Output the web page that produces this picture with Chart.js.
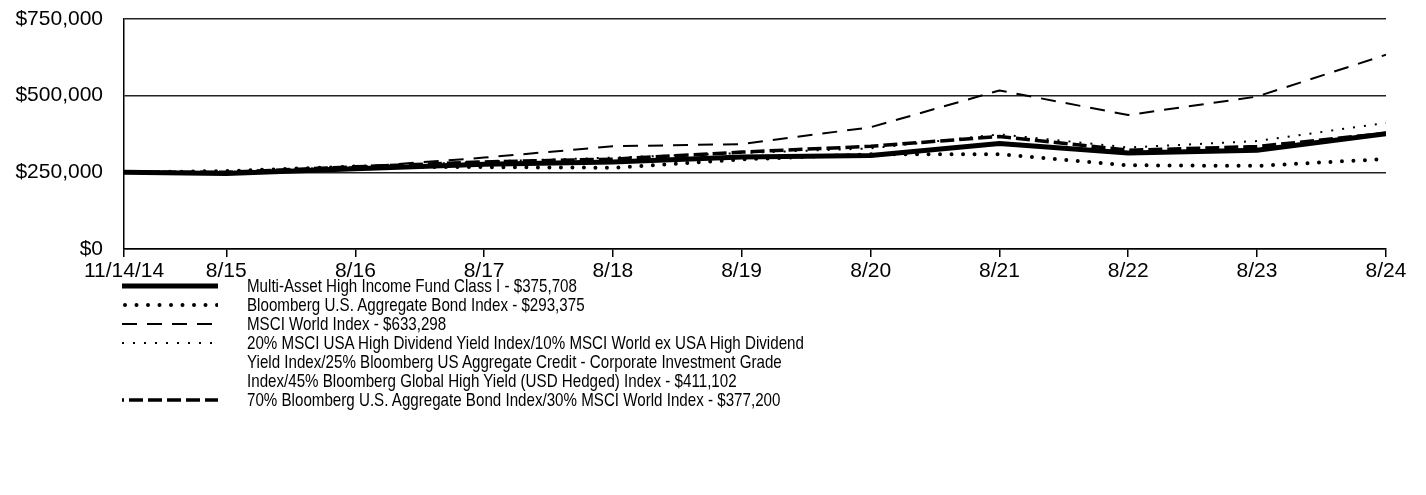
<!DOCTYPE html>
<html>
<head>
<meta charset="utf-8">
<script src="https://cdn.jsdelivr.net/npm/chart.js@4"></script>
<style>
  body { margin: 0; background: #fff; }
  #wrap { position: relative; width: 1426px; height: 495px; }
  #legend { position: absolute; left: 0; top: 276px; font-family: "Liberation Sans", Arial, sans-serif; font-size: 19px; color: #000; }
  .row { position: relative; height: 19px; line-height: 19px; }
  .row canvas { position: absolute; left: 122px; top: 0; }
  .row span { position: absolute; left: 247px; top: 0; white-space: nowrap; transform: scaleX(0.797); transform-origin: 0 0; }
</style>
</head>
<body>
<div id="wrap">
  <canvas id="growthChart" width="1426" height="292"></canvas>
  <div id="legend"></div>
</div>
<script>
// dates of each point and the axis labels
const dates = ["2014-11-14", "2015-08-31", "2016-08-31", "2017-08-31", "2018-08-31", "2019-08-31",
  "2020-08-31", "2021-08-31", "2022-08-31", "2023-08-31", "2024-08-31"];
const tickLabels = ["11/14/14", "8/15", "8/16", "8/17", "8/18", "8/19", "8/20", "8/21", "8/22", "8/23", "8/24"];

// values
const fund = [250000, 246000, 262000, 276000, 284000, 300000, 305000, 344000, 313000, 322000, 375708];
const aggBond = [250000, 254000, 269000, 267000, 265000, 292000, 309000, 309000, 273000, 271000, 293375];
const msciWorld = [250000, 250000, 267000, 298000, 335000, 342000, 397000, 517000, 437000, 497000, 633298];
const blend45 = [250000, 251000, 268000, 285000, 298000, 313000, 328000, 374000, 331000, 352000, 411102];
const blend70 = [250000, 250000, 268000, 284000, 293000, 316000, 335000, 367000, 322000, 334000, 377200];

const legendLabels = [
  "Multi-Asset High Income Fund Class I - $375,708",
  "Bloomberg U.S. Aggregate Bond Index - $293,375",
  "MSCI World Index - $633,298",
  "20% MSCI USA High Dividend Yield Index/10% MSCI World ex USA High Dividend<br>Yield Index/25% Bloomberg US Aggregate Credit - Corporate Investment Grade<br>Index/45% Bloomberg Global High Yield (USD Hedged) Index - $411,102",
  "70% Bloomberg U.S. Aggregate Bond Index/30% MSCI World Index - $377,200",
];

// line styles, same order as the legend
const styles = [
  { width: 5, dash: [], cap: "butt" },
  { width: 4, dash: [0, 11.5], cap: "round" },
  { width: 2, dash: [15, 10], cap: "butt" },
  { width: 2, dash: [2, 9], cap: "butt" },
  { width: 3.5, dash: [14, 5], cap: "butt", offset: 12 },
];

const start = new Date(dates[0]).getTime();
const xs = dates.map((d) => (new Date(d).getTime() - start) / (365.25 * 864e5));
const toPoints = (arr) => arr.map((v, i) => ({ x: xs[i], y: v }));

const series = [fund, aggBond, msciWorld, blend45, blend70];
const tickFont = { family: "'Liberation Sans', Arial, sans-serif", size: 21 };

const ctx = document.getElementById("growthChart").getContext("2d");
new Chart(ctx, {
  type: "line",
  data: {
    datasets: series.map((s, i) => ({
      label: legendLabels[i],
      data: toPoints(s),
      borderColor: "#000",
      borderWidth: styles[i].width,
      borderDash: styles[i].dash,
      borderCapStyle: styles[i].cap,
      borderJoinStyle: "round",
      pointRadius: 0,
      tension: 0,
    })),
  },
  options: {
    responsive: false,
    animation: false,
    layout: { padding: { left: 0, right: 40, top: 19, bottom: 0 } },
    plugins: { legend: { display: false }, tooltip: { enabled: false } },
    scales: {
      x: {
        type: "linear",
        min: 0,
        max: xs[xs.length - 1],
        afterBuildTicks: (s) => { s.ticks = xs.map((v) => ({ value: v })); },
        afterFit: (s) => { s.height = 43; },
        ticks: {
          autoSkip: false,
          maxRotation: 0,
          padding: 2,
          color: "#000",
          font: tickFont,
          callback: (v, i) => tickLabels[i],
        },
        grid: { drawOnChartArea: false, drawTicks: true, tickLength: 8, color: "#000", lineWidth: 1.5 },
        border: { color: "#000", width: 1.5 },
      },
      y: {
        min: 0,
        max: 750000,
        afterFit: (s) => { s.width = 124; },
        ticks: {
          stepSize: 250000,
          padding: 0,
          color: "#000",
          font: tickFont,
          callback: (v) => "$" + v.toLocaleString("en-US"),
        },
        // invisible tick marks keep the labels away from the axis
        grid: { drawTicks: true, tickLength: 21, tickColor: "rgba(0,0,0,0)", color: "#222", lineWidth: 1.5 },
        border: { color: "#000", width: 1.5 },
      },
    },
  },
});

// legend with drawn line samples
const legend = document.getElementById("legend");
legendLabels.forEach((text, i) => {
  const lines = text.split("<br>").length;
  const row = document.createElement("div");
  row.className = "row";
  row.style.height = 19 * lines + "px";
  const c = document.createElement("canvas");
  c.width = 96;
  c.height = 19;
  const g = c.getContext("2d");
  g.strokeStyle = "#000";
  g.lineWidth = styles[i].width;
  g.lineCap = styles[i].cap;
  g.setLineDash(styles[i].dash);
  g.lineDashOffset = styles[i].offset || 0;
  g.beginPath();
  g.moveTo(styles[i].cap === "round" ? 3 : 0, 10);
  g.lineTo(96, 10);
  g.stroke();
  const span = document.createElement("span");
  span.innerHTML = text;
  row.appendChild(c);
  row.appendChild(span);
  legend.appendChild(row);
});
</script>
</body>
</html>
